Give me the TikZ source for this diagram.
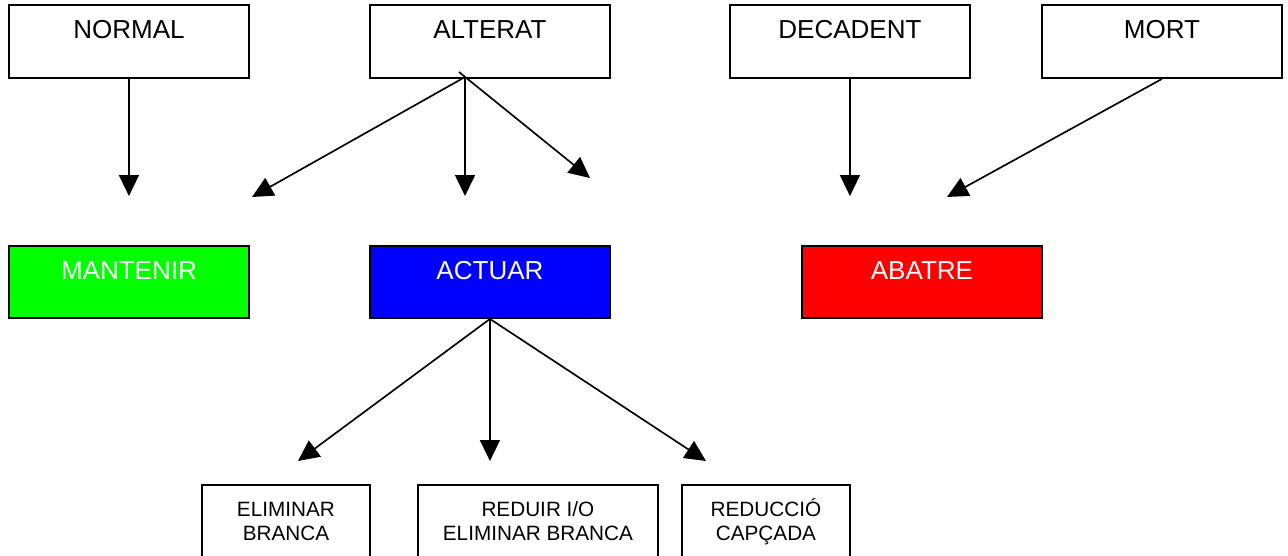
\documentclass[tikz,border=0pt]{standalone}
\usepackage{fontspec}
\setmainfont{Liberation Sans}
\usetikzlibrary{arrows.meta}
\newcommand{\boxw}{4.8cm}
\newcommand{\smallw}{3.36cm}
\newcommand{\boxlw}{1.1pt}

\begin{document}
\begin{tikzpicture}[x=0.02cm,y=-0.02cm]
            %\draw[help lines] (0,0) grid (1288,555);
            \tikzset{state/.style={draw, rectangle, line width=\boxlw, inner sep=0pt, minimum width=\boxw,
                        text height=0.68cm, text depth=0.78cm, anchor=north west, font=\fontsize{14.8}{17}\selectfont},
                     decision/.style={state, text=white, text depth=0.76cm},
                     task/.style={draw, rectangle, line width=\boxlw, inner sep=0pt, anchor=north west, align=center,
                        text height=1.114cm, text depth=0.6cm, font=\fontsize{11.8}{13.7}\selectfont},
                     arr/.style={line width=0.95pt, -{Triangle[length=0.42cm,width=0.4cm]}}}
            \useasboundingbox (0,0) rectangle (1288,555);
            % states of the tree
            \node[state] (normal) at (8,4) {NORMAL};
            \node[state] (alterat) at (369,4) {ALTERAT};
            \node[state] (decadent) at (729,4) {DECADENT};
            \node[state] (mort) at (1041,4) {MORT};
            % decisions
            \node[decision, fill={rgb,255:red,0;green,255;blue,0}] (mantenir) at (8,245) {MANTENIR};
            \node[decision, fill={rgb,255:red,0;green,0;blue,255}] (actuar) at (369,245) {ACTUAR};
            \node[decision, fill={rgb,255:red,255;green,0;blue,0}] (abatre) at (801,245) {ABATRE};
            % actions
            \node[task, minimum width=\smallw] (elimbr) at (201,484) {ELIMINAR\\BRANCA};
            \node[task, minimum width=\boxw] (reduir) at (417,484) {REDUIR I/O\\ELIMINAR BRANCA};
            \node[task, minimum width=\smallw] (capcada) at (681,484) {REDUCCIÓ\\CAPÇADA};
            % loose arrow ends
            \coordinate (altroot) at (465,77);
            \coordinate (altstub) at (459,72);
            \coordinate (mant-tip) at (normal.south |- 0,196);
            \coordinate (altl-tip) at (252,197);
            \coordinate (altd-tip) at (465,196);
            \coordinate (altr-tip) at (590,178);
            \coordinate (deca-tip) at (decadent.south |- 0,196);
            \coordinate (mort-tip) at (947,197);
            \coordinate (elimbr-tip) at (298,461);
            \coordinate (reduir-tip) at (actuar.south |- 0,461);
            \coordinate (capcada-tip) at (706,461);
            \draw[arr] (normal.south) -- (mant-tip);
            \draw[arr] (altroot) -- (altl-tip);
            \draw[arr] (altroot) -- (altd-tip);
            \draw[arr] (altstub) -- (altr-tip);
            \draw[arr] (decadent.south) -- (deca-tip);
            \draw[arr] (mort.south) -- (mort-tip);
            \foreach \t in {elimbr,reduir,capcada} {
                \draw[arr] (actuar.south) -- (\t-tip);
            }
    \end{tikzpicture}
\end{document}
